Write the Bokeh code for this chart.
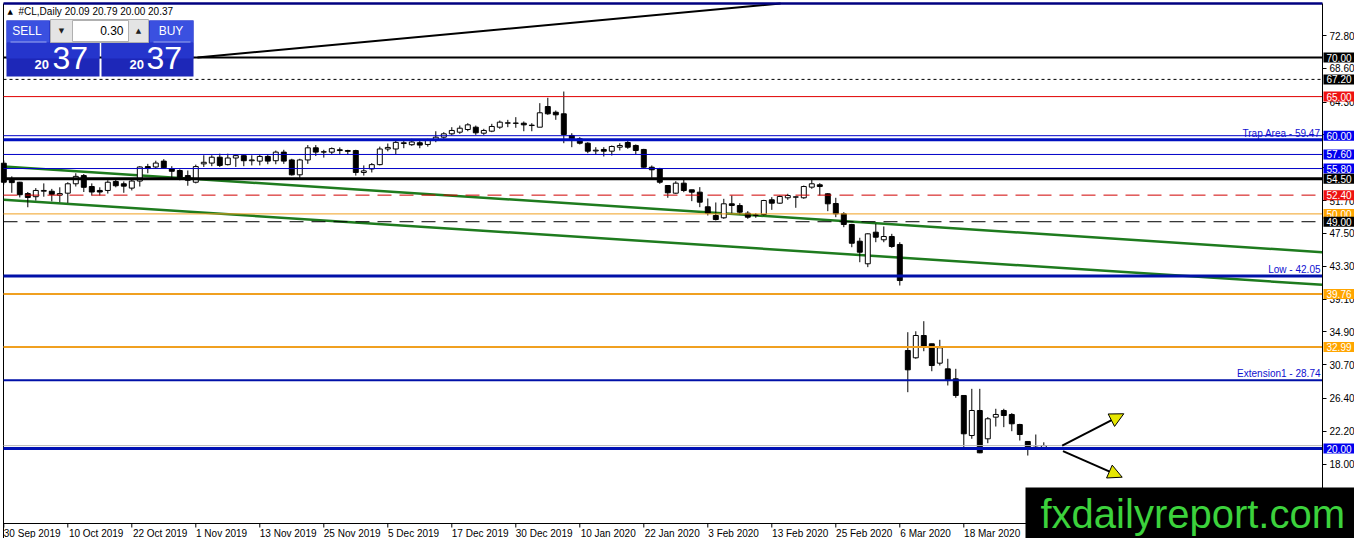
from bokeh.plotting import figure
from bokeh.models import (Range1d, FixedTicker, Label, Arrow, NormalHead,
                          BoxAnnotation, NumeralTickFormatter)
from bokeh.embed import file_html
from bokeh.resources import INLINE

# ---------------- data ----------------
open_ = [56.48, 54.30, 54.05, 52.60, 52.20, 52.90, 52.90, 52.40, 52.65, 53.85,
         54.90, 53.50, 53.00, 53.00, 54.15, 53.85, 53.30, 54.20, 56.05, 56.00,
         56.75, 55.75, 55.55, 54.90, 54.05, 56.40, 56.50, 57.25, 56.30, 57.15,
         57.45, 56.80, 56.75, 57.35, 56.80, 57.90, 56.90, 55.00, 56.90, 58.45,
         57.90, 57.90, 58.20, 58.10, 58.10, 55.30, 55.75, 56.30, 58.30, 58.30,
         59.00, 58.85, 59.10, 58.88, 59.39, 59.81, 60.24, 60.45, 60.79, 61.09,
         60.32, 60.58, 61.09, 61.60, 61.58, 61.60, 61.30, 61.09, 63.73, 63.00,
         62.80, 60.03, 59.60, 59.04, 58.05, 58.24, 58.02, 58.53, 59.13, 58.75,
         58.24, 55.97, 55.77, 53.63, 52.65, 53.93, 53.08, 52.78, 50.91, 49.80,
         49.50, 51.29, 51.07, 50.09, 49.80, 49.92, 51.80, 51.37, 52.06, 52.14,
         52.06, 53.42, 53.72, 52.57, 51.33, 50.01, 48.65, 46.51, 43.62, 47.66,
         46.69, 47.11, 46.09, 32.53, 31.60, 34.45, 33.39, 30.91, 30.19, 28.91,
         26.78, 21.66, 24.86, 21.24, 24.01, 24.86, 24.35, 23.07, 20.90, 20.17,
         20.09]
high = [56.83, 54.80, 54.10, 52.80, 53.30, 53.90, 53.20, 53.40, 54.05, 55.20,
        55.10, 53.90, 53.40, 54.30, 54.40, 54.15, 54.50, 56.10, 56.40, 56.80,
        57.00, 56.10, 55.70, 55.55, 56.30, 57.50, 57.50, 57.70, 57.70, 57.50,
        57.50, 57.50, 57.60, 57.60, 58.10, 58.20, 57.05, 57.05, 58.80, 58.80,
        58.20, 58.50, 58.50, 58.20, 58.20, 56.20, 56.50, 58.60, 59.00, 59.40,
        59.50, 59.60, 59.50, 59.60, 60.57, 60.45, 61.09, 61.30, 61.60, 61.30,
        60.88, 61.52, 61.94, 62.03, 62.37, 61.82, 61.60, 64.16, 64.85, 63.22,
        65.65, 60.32, 59.81, 59.17, 58.53, 58.53, 58.75, 59.04, 59.39, 58.88,
        58.32, 56.19, 55.89, 53.63, 54.18, 54.49, 53.08, 53.42, 51.97, 51.46,
        51.93, 52.35, 51.37, 50.35, 50.09, 51.80, 52.14, 52.35, 52.57, 52.23,
        53.63, 54.49, 53.93, 52.65, 52.06, 50.22, 48.73, 46.95, 47.53, 48.73,
        48.39, 47.45, 46.38, 34.87, 34.99, 36.28, 33.39, 33.90, 31.47, 30.19,
        26.78, 27.63, 27.63, 24.01, 25.08, 25.08, 24.52, 23.16, 20.90, 21.79,
        20.79]
low = [53.76, 52.70, 52.10, 50.85, 51.70, 52.20, 51.60, 51.50, 51.40, 53.50,
       52.80, 52.35, 52.35, 52.60, 53.40, 52.70, 53.00, 53.50, 55.20, 55.80,
       55.80, 54.60, 54.30, 53.60, 53.90, 56.00, 56.10, 56.00, 56.20, 56.00,
       56.10, 56.20, 56.20, 56.35, 56.35, 56.40, 54.90, 54.60, 56.40, 57.40,
       57.20, 57.60, 57.60, 57.60, 54.90, 54.90, 55.30, 56.20, 58.00, 57.60,
       58.40, 58.70, 58.40, 58.60, 59.17, 59.60, 60.03, 60.24, 60.57, 60.11,
       60.11, 60.45, 60.88, 61.09, 61.01, 60.57, 60.57, 61.09, 62.67, 62.03,
       59.04, 58.53, 58.88, 57.76, 57.60, 57.34, 57.47, 58.11, 58.32, 57.60,
       55.89, 54.61, 53.85, 52.06, 52.57, 52.78, 51.63, 50.86, 49.80, 49.16,
       49.37, 50.00, 49.92, 49.37, 49.50, 49.80, 50.52, 51.29, 51.80, 50.78,
       51.93, 53.21, 52.35, 50.35, 49.58, 48.30, 45.74, 43.82, 43.19, 46.38,
       46.38, 45.66, 40.84, 27.20, 31.47, 32.44, 29.88, 30.61, 28.06, 26.48,
       20.09, 21.24, 19.40, 20.68, 22.81, 22.73, 22.21, 21.02, 19.10, 19.96,
       20.00]
close = [54.05, 54.00, 52.45, 52.10, 53.00, 53.00, 52.50, 52.60, 53.85, 54.80,
         53.40, 52.80, 52.80, 54.05, 53.60, 53.55, 54.20, 56.00, 55.80, 56.50,
         55.90, 55.45, 54.70, 54.30, 56.05, 56.60, 57.25, 56.20, 57.15, 57.45,
         56.80, 56.90, 57.35, 56.75, 57.90, 56.75, 55.00, 56.90, 58.45, 57.90,
         57.95, 58.35, 58.10, 58.00, 55.30, 55.50, 56.30, 58.30, 58.50, 59.15,
         59.10, 59.20, 58.80, 59.39, 59.81, 60.24, 60.67, 60.96, 61.39, 60.37,
         60.67, 61.18, 61.73, 61.65, 61.62, 61.39, 61.35, 62.93, 62.80, 62.67,
         60.15, 59.60, 59.04, 58.02, 58.15, 58.02, 58.62, 58.75, 58.53, 58.11,
         55.97, 55.64, 54.05, 52.70, 53.93, 52.99, 52.78, 51.50, 50.11, 49.28,
         51.29, 51.08, 50.22, 49.58, 49.84, 51.71, 51.37, 52.23, 52.35, 52.18,
         53.50, 53.85, 53.50, 51.29, 50.01, 48.65, 46.25, 45.10, 47.45, 47.02,
         47.11, 45.83, 41.48, 30.06, 34.45, 33.04, 30.61, 32.88, 28.69, 26.78,
         21.88, 24.86, 19.45, 23.80, 24.35, 24.22, 23.16, 21.79, 20.17, 20.04,
         20.37]

date_ticks = [0, 8, 16, 24, 32, 40, 48, 56, 64, 72, 80, 88, 96, 104, 112, 120]
date_labels = ["30 Sep 2019", "10 Oct 2019", "22 Oct 2019", "1 Nov 2019",
               "13 Nov 2019", "25 Nov 2019", "5 Dec 2019", "17 Dec 2019",
               "30 Dec 2019", "10 Jan 2020", "22 Jan 2020", "3 Feb 2020",
               "13 Feb 2020", "25 Feb 2020", "6 Mar 2020", "18 Mar 2020"]
price_ticks = [13.80, 18.00, 22.20, 26.40, 30.70, 34.90, 39.10, 43.30, 47.50,
               51.70, 55.90, 60.10, 64.30, 68.60, 72.80]

# horizontal levels
level_values = [70.00, 67.20, 65.00, 60.00, 59.47, 57.60, 55.80, 54.50, 52.40,
                50.00, 49.00, 42.05, 39.76, 32.99, 28.74, 20.37, 20.00]
level_colors = ["black", "black", "#e00000", "#0000c8", "#0010c0", "#0000c8",
                "#0000c8", "black", "#d00000", "#f0a020", "black", "#0010a8",
                "#f0a020", "#f0a020", "#0010a8", "#b8b8b8", "#0010b4"]
level_widths = [2, 1, 1, 1, 3, 1, 1, 3, 1, 1, 1, 3, 2, 2, 2, 1, 3]
level_dashes = ["solid", "3 3", "solid", "solid", "solid", "solid", "solid",
                "solid", "14 8", "solid", "14 8", "solid", "solid", "solid",
                "solid", "solid", "solid"]

# price boxes on the right scale
box_values = [70.00, 67.20, 65.00, 60.00, 57.60, 55.80, 54.50, 52.40, 50.00,
              49.00, 39.76, 32.99, 20.00]
box_colors = ["black", "black", "#ee1111", "#0000ee", "#0000ee", "#0000ee",
              "black", "#ee1111", "#ffa500", "black", "#ffa500", "#ffa500",
              "#0000ee"]

# named levels
name_texts = ["Trap Area - 59.47", "Low - 42.05", "Extension1 - 28.74"]
name_values = [59.47, 42.05, 28.74]

# trend lines (bar index, price)
green_up_x = [0.0, 164.8]
green_up_y = [56.06, 45.11]
green_lo_x = [0.0, 164.8]
green_lo_y = [51.80, 40.93]
black_tr_x = [24.2, 97.1]
black_tr_y = [70.00, 76.91]

# arrows (bar index, price)
arrow_x0 = [132.3, 132.4]
arrow_y0 = [20.38, 19.66]
arrow_x1 = [140.0, 139.8]
arrow_y1 = [24.44, 16.33]

# ---------------- layout ----------------
FONT = "Liberation Sans"
W, H = 1354, 538
PX_PER_BAR = 8.0
PX_PER_USD = 7.82
X_START = -3.3 / PX_PER_BAR
X_END = X_START + W / PX_PER_BAR
Y_TOP = 20 + 448 / PX_PER_USD
Y_BOT = Y_TOP - H / PX_PER_USD


def sx(px):
    return X_START + px / PX_PER_BAR


def sy(py):
    return Y_TOP - py / PX_PER_USD


X_AX = sx(1322)      # right price scale
Y_AX = sy(523)       # date scale
X_LEFT = sx(3)

p = figure(width=W, height=H, title=None,
           x_range=Range1d(X_START, X_END), y_range=Range1d(Y_BOT, Y_TOP),
           output_backend="svg", toolbar_location=None, y_axis_location="right",
           min_border_left=0, min_border_top=0, min_border_right=0,
           min_border_bottom=0, background_fill_color="white",
           border_fill_color="white")
p.xgrid.visible = False
p.ygrid.visible = False
p.outline_line_color = None

# date axis: labels start at the tick (label centre shifted right)
shift = [2.58 * len(s) / PX_PER_BAR for s in date_labels]
label_pos = [t + s for t, s in zip(date_ticks, shift)]
xa = p.xaxis[0]
xa.fixed_location = Y_AX
xa.bounds = (X_LEFT, X_AX)
xa.ticker = FixedTicker(ticks=label_pos)
xa.major_label_overrides = {t: s for t, s in zip(label_pos, date_labels)}
xa.major_label_text_font = FONT
xa.major_label_text_font_size = "10px"
xa.major_label_text_color = "black"
xa.major_tick_out = 0
xa.major_tick_in = 0
xa.minor_tick_out = 0
xa.minor_tick_in = 0
xa.major_label_standoff = 4
xa.axis_line_color = "black"

ya = p.yaxis[0]
ya.fixed_location = X_AX
ya.bounds = (Y_BOT, sy(3))
ya.ticker = FixedTicker(ticks=price_ticks)
ya.formatter = NumeralTickFormatter(format="0.00")
ya.major_label_text_font = FONT
ya.major_label_text_font_size = "10px"
ya.major_label_text_color = "black"
ya.major_tick_out = 4
ya.major_tick_in = 0
ya.minor_tick_out = 0
ya.minor_tick_in = 0
ya.major_label_standoff = 3
ya.axis_line_color = "black"

# date tick marks at the bars
p.segment(x0=date_ticks, x1=date_ticks, y0=[Y_AX] * len(date_ticks),
          y1=[sy(527)] * len(date_ticks), line_color="black", line_width=1)

# frame border (left)
p.segment(x0=[X_LEFT], x1=[X_LEFT], y0=[Y_BOT], y1=[sy(3)], line_color="black",
          line_width=1)

# trend lines
p.line(black_tr_x, black_tr_y, line_color="black", line_width=2)
p.line(green_up_x, green_up_y, line_color="#1e7b1e", line_width=2.5)
p.line(green_lo_x, green_lo_y, line_color="#1e7b1e", line_width=2.5)

# candles
idx = list(range(len(open_)))
inc = [i for i in idx if close[i] >= open_[i]]
dec = [i for i in idx if close[i] < open_[i]]
p.segment(x0=idx, y0=low, x1=idx, y1=high, line_color="black", line_width=1)
p.vbar(x=inc, width=0.62, bottom=[open_[i] for i in inc],
       top=[close[i] for i in inc], fill_color="white", line_color="black",
       line_width=1)
p.vbar(x=dec, width=0.62, bottom=[close[i] for i in dec],
       top=[open_[i] for i in dec], fill_color="black", line_color="black",
       line_width=1)

# horizontal levels (drawn over the candles, up to the price scale)
p.segment(x0=[X_LEFT], x1=[X_AX], y0=[sy(3)], y1=[sy(3)], line_color="#000080",
          line_width=2.5)
for v, c, w, d in zip(level_values, level_colors, level_widths, level_dashes):
    p.segment(x0=[X_LEFT], x1=[X_AX], y0=[v], y1=[v], line_color=c,
              line_width=w, line_dash=d)

for t, v in zip(name_texts, name_values):
    p.add_layout(Label(x=X_AX, y=v, x_offset=-2, y_offset=1, text=t,
                       text_align="right", text_baseline="bottom",
                       text_font=FONT, text_font_size="10px",
                       text_color="#1010d0"))

for v, c in zip(box_values, box_colors):
    p.add_layout(Label(x=X_AX, y=v, x_offset=1, text=f"{v:.2f}",
                       text_align="left", text_baseline="middle",
                       text_font=FONT, text_font_size="10px",
                       text_color="white", background_fill_color=c,
                       padding=dict(left=3, right=4, top=1, bottom=1)))

# arrows
for a, b, c, d in zip(arrow_x0, arrow_y0, arrow_x1, arrow_y1):
    p.add_layout(Arrow(end=NormalHead(size=14, fill_color="#e6e600",
                                      line_color="black", line_width=1),
                       x_start=a, y_start=b, x_end=c, y_end=d,
                       line_color="black", line_width=2))


# one-click trading panel
def box(l, r, t, b, fill, line=None):
    p.add_layout(BoxAnnotation(left=sx(l), right=sx(r), top=sy(t), bottom=sy(b),
                               fill_color=fill, fill_alpha=1,
                               line_color=line if line else fill,
                               line_alpha=1 if line else 0, line_width=1,
                               level="overlay"))


def txt(x, y, s, size, color="white", align="left", font=FONT, style="normal"):
    p.add_layout(Label(x=sx(x), y=sy(y), text=s, text_align=align,
                       text_baseline="middle", text_font=font,
                       text_font_size=size, text_color=color,
                       text_font_style=style, level="overlay"))


txt(7, 11, "\u25b2", "7px", color="black", font="DejaVu Sans")
txt(18, 11, "#CL,Daily  20.09 20.79 20.00 20.37", "10px", color="black")

box(6, 99, 20, 76, "#1d27b8")
box(101, 193, 20, 76, "#1d27b8")
box(6, 99, 42, 58, "#2535cc")
box(101, 193, 42, 58, "#2535cc")
box(6, 49, 20, 42, "#3a50e0")
box(149, 193, 20, 42, "#3a50e0")
box(50, 148, 19, 42, "#e4e4e4", "#b0b0b0")
box(72, 128, 20, 41, "white", "#b0b0b0")
box(10, 46, 41, 42, "#9aa6ee")
box(153, 190, 41, 42, "#9aa6ee")

txt(26.5, 30, "SELL", "12px", align="center")
txt(170.5, 30, "BUY", "12px", align="center")
txt(61, 30, "\u25bc", "7px", color="#202020", align="center", font="DejaVu Sans")
txt(138, 30, "\u25b2", "7px", color="#202020", align="center", font="DejaVu Sans")
txt(123, 30, "0.30", "12px", color="black", align="right")
txt(34, 64, "20", "13px", style="bold")
txt(52, 57.5, "37", "32px")
txt(129, 64, "20", "13px", style="bold")
txt(146, 57.5, "37", "32px")

# logo
p.add_layout(Label(x=sx(1025), y=sy(513), text="fxdailyreport.com",
                   text_align="left", text_baseline="middle",
                   text_font=FONT, text_font_size="40px", text_color="#3cd23c",
                   background_fill_color="black",
                   padding=dict(left=15, right=30, top=4, bottom=4),
                   level="overlay"))

open("out.html", "w").write(file_html(p, INLINE))
